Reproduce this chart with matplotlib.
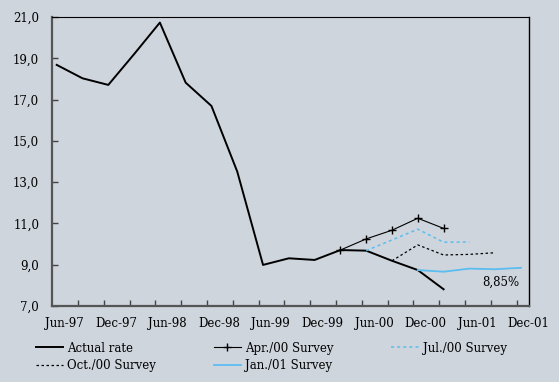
import numpy as np
import matplotlib
matplotlib.use('Agg')
import matplotlib.pyplot as plt

# --- dados (leitura do gráfico, valores trimestrais) ---
trimestres = ['Jun-97', 'Sep-97', 'Dec-97', 'Mar-98', 'Jun-98', 'Sep-98', 'Dec-98',
              'Mar-99', 'Jun-99', 'Sep-99', 'Dec-99', 'Mar-00', 'Jun-00', 'Sep-00',
              'Dec-00', 'Mar-01', 'Jun-01', 'Sep-01', 'Dec-01']
taxa_real = [18.68, 18.03, 17.71, 19.20, 20.73, 17.82, 16.69, 13.51, 8.99, 9.31,
             9.23, 9.71, 9.68, 9.19, 8.74, 7.81]
abr00 = [9.71, 10.25, 10.67, 11.25, 10.76]   # Mar-00 .. Mar-01
jul00 = [9.68, 10.20, 10.72, 10.09, 10.10]   # Jun-00 .. Jun-01
out00 = [9.19, 9.96, 9.47, 9.50, 9.58]       # Sep-00 .. Sep-01
jan01 = [8.74, 8.66, 8.81, 8.78, 8.85]       # Dec-00 .. Dec-01
inicio = {'abr00': 11, 'jul00': 12, 'out00': 13, 'jan01': 14}
rotulos_x = trimestres[::2]
rotulos_y = ['7,0', '9,0', '11,0', '13,0', '15,0', '17,0', '19,0', '21,0']

fundo = '#ced5dd'
azul = '#5bbdf0'
desloc = 0.17  # pontos ficam um pouco à direita das marcas

plt.rcParams['font.family'] = ['DejaVu Serif']
plt.rcParams['font.size'] = 8.5

fig = plt.figure(figsize=(5.59, 3.82), dpi=100, facecolor=fundo)
ax = fig.add_axes([0.0936, 0.199, 0.8522, 0.7565], facecolor=fundo)

x = np.arange(len(trimestres)) + desloc


def serie(nome, valores):
    i0 = inicio[nome]
    return x[i0:i0 + len(valores)], valores


l_real, = ax.plot(x[:len(taxa_real)], taxa_real, color='black', lw=1.4,
                  label='Actual rate')
l_abr, = ax.plot(*serie('abr00', abr00), color='black', lw=0.8, marker='+',
                 ms=6, mew=1.0, label='Apr./00 Survey')
l_jul, = ax.plot(*serie('jul00', jul00), color=azul, lw=1.1, ls=(0, (2, 2)),
                 label='Jul./00 Survey')
l_out, = ax.plot(*serie('out00', out00), color='black', lw=0.9, ls=(0, (2, 2)),
                 label='Oct./00 Survey')
l_jan, = ax.plot(*serie('jan01', jan01), color=azul, lw=1.3,
                 label='Jan./01 Survey')

ax.text(17.4, 8.14, '8,85%', ha='center', va='center')

ax.set_xlim(0, 18.32)
ax.set_ylim(7, 21)
ax.set_yticks(np.arange(7, 22, 2))
ax.set_yticklabels(rotulos_y)
ax.set_xticks(np.arange(len(rotulos_x)) * 2 + 0.47)
ax.set_xticklabels(rotulos_x)
ax.set_xticks(np.arange(1, 19), minor=True)
ax.tick_params(axis='x', which='major', length=0, pad=8)
ax.tick_params(axis='x', which='minor', direction='in', length=4, width=1,
               color='#444444')
ax.tick_params(axis='y', direction='in', length=4, width=1, color='#444444',
               pad=9.5)

for lado in ['left', 'bottom']:
    ax.spines[lado].set_color('#555555')
    ax.spines[lado].set_linewidth(1.6)
ax.spines['top'].set_linewidth(0.8)
ax.spines['right'].set_linewidth(1.0)

fig.legend([l_real, l_out, l_abr, l_jan, l_jul],
           ['Actual rate', 'Oct./00 Survey', 'Apr./00 Survey', 'Jan./01 Survey',
            'Jul./00 Survey'],
           ncol=3, loc='upper left', bbox_to_anchor=(0.064, 0.106),
           frameon=False, handlelength=2.3, handletextpad=0.35,
           columnspacing=4.9, labelspacing=0.4, borderpad=0, borderaxespad=0)

fig.savefig('out.png', dpi=100, facecolor=fundo)
